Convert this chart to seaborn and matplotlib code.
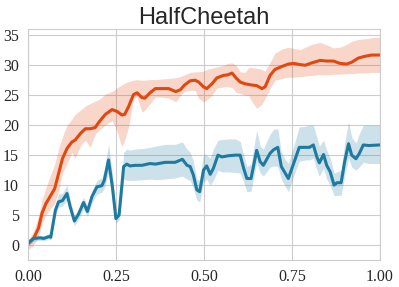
import numpy as np
import pandas as pd
import matplotlib
matplotlib.use("Agg")
import matplotlib.pyplot as plt
import seaborn as sns

# orange run: step fraction, mean return, band low, band high
t_orange = [0.000, 0.016, 0.030, 0.040, 0.051, 0.063, 0.076, 0.087, 0.098, 0.111,
            0.125, 0.134, 0.149, 0.163, 0.177, 0.191, 0.203, 0.220, 0.239, 0.253,
            0.267, 0.275, 0.286, 0.300, 0.310, 0.324, 0.332, 0.347, 0.362, 0.381,
            0.400, 0.420, 0.433, 0.445, 0.461, 0.475, 0.485, 0.499, 0.508, 0.523,
            0.537, 0.556, 0.568, 0.580, 0.591, 0.603, 0.617, 0.627, 0.636, 0.650,
            0.665, 0.674, 0.688, 0.702, 0.722, 0.740, 0.755, 0.774, 0.788, 0.807,
            0.830, 0.849, 0.868, 0.887, 0.906, 0.920, 0.939, 0.958, 0.977, 1.000]
orange_mean = [0.2, 1.1, 2.8, 5.3, 6.9, 8.1, 9.4, 11.9, 14.4, 16.1,
               17.2, 17.5, 18.6, 19.4, 19.4, 19.6, 20.6, 21.8, 22.6, 22.3,
               21.7, 21.8, 23.1, 25.1, 25.4, 24.6, 24.5, 25.4, 26.1, 26.1,
               26.1, 25.6, 25.9, 26.7, 27.4, 27.5, 27.2, 26.4, 26.1, 26.9,
               27.9, 28.3, 28.4, 28.7, 27.9, 27.2, 26.9, 26.8, 26.7, 26.6,
               26.1, 26.4, 28.3, 29.3, 29.8, 30.2, 30.3, 30.1, 30.0, 30.4,
               30.8, 30.7, 30.7, 30.3, 30.2, 30.5, 31.2, 31.5, 31.7, 31.7]
orange_lo = [-0.8, 0.0, 1.5, 3.5, 5.0, 6.0, 7.0, 9.0, 12.0, 13.5,
             15.5, 14.5, 16.5, 17.5, 16.3, 18.5, 19.2, 20.0, 20.8, 19.0,
             16.4, 17.5, 19.7, 24.5, 24.7, 22.2, 22.5, 23.6, 24.7, 24.7,
             24.5, 23.9, 25.0, 25.6, 25.8, 25.8, 24.5, 23.9, 24.2, 25.0,
             26.2, 26.4, 26.4, 26.3, 25.5, 25.3, 25.0, 25.0, 24.0, 22.8,
             23.5, 24.5, 26.1, 27.5, 27.8, 28.0, 28.0, 28.1, 28.2, 28.3,
             28.4, 28.4, 28.5, 28.5, 28.6, 28.6, 28.7, 28.7, 28.8, 28.8]
orange_hi = [0.8, 2.3, 4.8, 7.5, 9.5, 11.5, 13.5, 16.0, 18.0, 20.0,
             21.0, 21.8, 22.5, 23.2, 23.6, 24.0, 24.3, 25.2, 25.6, 26.2,
             26.7, 27.0, 27.3, 27.5, 27.6, 27.5, 27.5, 27.6, 27.6, 27.7,
             27.8, 27.9, 28.1, 28.4, 28.8, 28.9, 28.9, 29.0, 29.3, 29.5,
             29.7, 30.0, 30.3, 30.4, 30.0, 28.9, 28.8, 29.6, 29.6, 29.5,
             29.3, 29.0, 30.5, 32.0, 32.7, 33.0, 32.8, 32.6, 33.0, 33.5,
             33.8, 33.4, 32.9, 33.0, 33.5, 34.0, 34.3, 34.4, 34.6, 34.7]

# blue run
t_blue = [0.000, 0.016, 0.035, 0.045, 0.059, 0.065, 0.078, 0.087, 0.098, 0.111,
          0.120, 0.132, 0.144, 0.158, 0.169, 0.182, 0.196, 0.210, 0.217, 0.229,
          0.240, 0.250, 0.259, 0.272, 0.281, 0.290, 0.305, 0.324, 0.347, 0.362,
          0.390, 0.418, 0.439, 0.452, 0.461, 0.470, 0.480, 0.488, 0.499, 0.508,
          0.518, 0.527, 0.540, 0.551, 0.570, 0.589, 0.603, 0.613, 0.622, 0.634,
          0.650, 0.660, 0.669, 0.688, 0.698, 0.710, 0.720, 0.729, 0.740, 0.755,
          0.771, 0.788, 0.800, 0.811, 0.821, 0.828, 0.840, 0.849, 0.859, 0.870,
          0.878, 0.890, 0.900, 0.911, 0.920, 0.932, 0.941, 0.953, 0.968, 1.000]
blue_mean = [0.3, 1.1, 1.2, 1.1, 1.4, 1.3, 5.8, 7.2, 7.4, 8.6,
             6.4, 4.0, 5.2, 7.1, 5.6, 8.1, 9.7, 9.9, 10.8, 14.2,
             9.7, 4.4, 5.0, 13.1, 13.5, 13.2, 13.3, 13.3, 13.6, 13.5,
             13.8, 13.8, 14.3, 13.3, 13.1, 11.7, 9.2, 8.9, 12.5, 13.2,
             11.8, 12.8, 15.0, 14.7, 14.9, 15.0, 15.0, 12.8, 11.1, 11.1,
             15.8, 13.9, 13.3, 15.3, 15.9, 16.3, 13.1, 12.2, 11.1, 13.6,
             16.3, 16.3, 16.3, 16.7, 14.7, 13.7, 15.1, 13.3, 12.2, 10.0,
             10.4, 10.4, 13.9, 16.9, 15.0, 14.4, 15.2, 16.7, 16.6, 16.7]
blue_lo = [-0.2, 0.6, 0.8, 0.7, 1.0, 0.9, 5.0, 6.3, 6.5, 7.5,
           5.5, 3.2, 4.3, 6.0, 4.8, 7.0, 8.5, 8.8, 9.5, 12.0,
           8.0, 3.6, 4.2, 11.0, 10.8, 10.8, 10.8, 10.9, 11.0, 10.9,
           11.0, 11.2, 11.5, 11.0, 10.8, 9.5, 7.5, 7.2, 10.5, 11.0,
           10.0, 10.8, 12.5, 12.2, 12.2, 12.1, 12.0, 10.5, 8.9, 9.0,
           13.8, 12.0, 11.5, 13.0, 13.2, 13.1, 11.0, 10.0, 8.9, 11.5,
           14.0, 14.2, 14.2, 14.5, 12.5, 11.5, 12.8, 11.0, 10.0, 8.2,
           8.3, 8.3, 11.5, 14.5, 13.0, 12.5, 13.0, 13.8, 13.6, 13.6]
blue_hi = [0.8, 1.7, 1.6, 1.5, 1.9, 1.8, 6.8, 8.5, 8.6, 10.0,
           7.5, 4.8, 6.0, 8.0, 6.5, 9.0, 10.8, 11.2, 12.5, 16.8,
           12.0, 5.2, 6.0, 15.5, 16.0, 15.8, 16.0, 16.1, 16.3, 16.5,
           16.8, 16.8, 17.2, 16.0, 15.5, 14.0, 11.0, 10.8, 15.3, 15.0,
           14.5, 16.0, 17.5, 17.6, 17.7, 17.7, 17.3, 15.0, 13.1, 13.5,
           19.2, 16.5, 16.0, 18.5, 19.3, 19.4, 15.5, 14.5, 13.6, 16.5,
           19.7, 19.8, 20.0, 20.0, 18.0, 16.5, 17.5, 15.8, 14.5, 12.0,
           12.2, 12.5, 17.0, 20.6, 18.0, 17.0, 18.5, 20.0, 20.0, 20.0]

x_ticks = [0.0, 0.25, 0.5, 0.75, 1.0]
y_ticks = [0, 5, 10, 15, 20, 25, 30, 35]

orange = "#e2470f"
blue = "#1f7aa0"

sns.set_style("whitegrid")
plt.rcParams["font.family"] = ["Liberation Serif", "DejaVu Serif"]

fig = plt.figure(figsize=(3.99, 2.87), dpi=100)
ax = fig.add_axes([0.070, 0.094, 0.882, 0.804])

df_o = pd.DataFrame({"t": t_orange, "ret": orange_mean})
df_b = pd.DataFrame({"t": t_blue, "ret": blue_mean})

ax.fill_between(t_orange, orange_lo, orange_hi, color=orange, alpha=0.22, linewidth=0)
ax.fill_between(t_blue, blue_lo, blue_hi, color=blue, alpha=0.22, linewidth=0)
sns.lineplot(data=df_o, x="t", y="ret", color=orange, linewidth=2.2, ax=ax)
sns.lineplot(data=df_b, x="t", y="ret", color=blue, linewidth=2.2, ax=ax)

ax.set_xlim(0, 1)
ax.set_ylim(-2.5, 36)
ax.set_xticks(x_ticks)
ax.set_yticks(y_ticks)
ax.set_xticklabels([f"{v:.2f}" for v in x_ticks])
ax.set_xlabel("")
ax.set_ylabel("")
ax.tick_params(labelsize=11.5, pad=3)
ax.set_title("HalfCheetah", fontsize=17, family=["Liberation Sans", "DejaVu Sans"], pad=4)

plt.savefig("out.png", dpi=100)
